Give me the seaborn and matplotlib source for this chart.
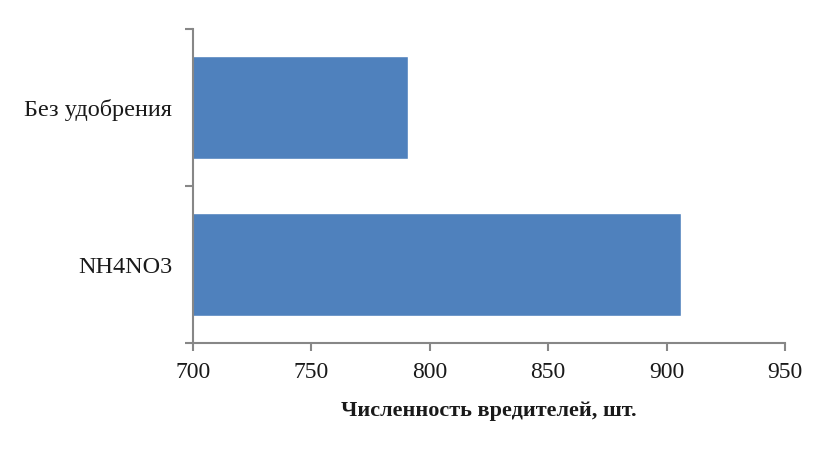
import pandas as pd
import matplotlib.pyplot as plt
import seaborn as sns

# Data
categories = ['Без удобрения', 'NH4NO3']
pests = [791, 906]
x_ticks = [700, 750, 800, 850, 900, 950]

df = pd.DataFrame({'treatment': categories, 'pests': pests})

sns.set_style('white')
plt.rcParams['font.family'] = ['Liberation Serif', 'DejaVu Serif']

fig = plt.figure(figsize=(8.3, 4.54), dpi=100)
ax = fig.add_axes([0.2325, 0.2445, 0.7133, 0.6915])

sns.barplot(data=df, y='treatment', x='pests', orient='h', color='#4F81BD',
            saturation=1, width=0.66, ax=ax)

ax.set_xlim(700, 950)
ax.set_ylim(1.5, -0.5)
ax.set_xticks(x_ticks)
ax.set_xticklabels([str(t) for t in x_ticks], fontsize=17, color='#1a1a1a')

# category labels centred, tick marks on the category boundaries
ax.set_yticks(range(len(categories)))
ax.set_yticklabels(categories, fontsize=17.5, color='#1a1a1a')
ax.set_yticks([-0.5, 0.5, 1.5], minor=True)
ax.tick_params(axis='y', which='major', length=0, pad=15)
ax.tick_params(axis='y', which='minor', length=6, width=1.5, color='#878787', left=True)
ax.tick_params(axis='x', length=6, width=1.5, color='#878787', bottom=True, pad=8)

ax.set_ylabel('')
ax.set_xlabel('Численность вредителей, шт.', fontsize=16, fontweight='bold',
              color='#1a1a1a', labelpad=13)

sns.despine(ax=ax)
for side in ['left', 'bottom']:
    ax.spines[side].set_color('#878787')
    ax.spines[side].set_linewidth(1.5)

fig.savefig('out.png', dpi=100, facecolor='white')
